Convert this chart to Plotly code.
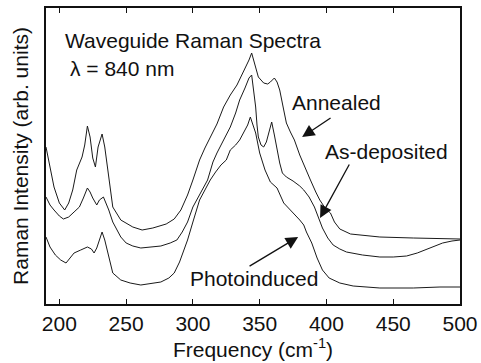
import plotly.graph_objects as go

# Frequencies (cm^-1) and intensities (arb. units)
ann_f = [190,193,196,200,204,207,210,213,217,219,221,223,225,227,229,232,234,237,240,246,255,262,270,280,286,291,296,300,305,309,313,318,323,328,333,336,339,342,344,346,349,353,356,358,361,363,365,368,370,373,376,380,384,388,392,395,399,403,406,410,418,430,440,465,500]
ann_v = [157,136,117,101,94,101,114,134,147,159,178,167,146,137,157,170,157,127,97,84,77,74,76,80,85,94,109,124,144,156,166,180,197,209,219,227,236,244,251,242,227,221,220,222,226,222,214,194,181,172,164,149,136,124,112,104,96,91,82,75,70,68,67,66,65]

dep_f = [190,193,196,200,203,207,211,215,218,221,223,225,228,230,233,235,237,240,243,246,250,255,261,268,276,283,288,292,296,300,305,311,315,318,323,328,332,335,339,342,344,346,347,348,349,351,353,355,357,359,361,363,365,367,370,375,380,383,387,391,394,397,401,405,410,415,427,440,450,460,468,477,487,494,500]
dep_v = [107,99,94,88,85,87,92,97,106,116,112,106,99,104,107,101,94,82,74,67,61,58,56,57,58,61,64,72,82,97,109,124,142,151,164,177,191,204,216,226,229,209,197,179,167,159,157,162,172,182,169,154,141,131,127,123,118,114,107,97,86,76,66,59,55,52,49,47,47,48,51,56,61,63,64]

pho_f = [190,193,197,201,205,208,211,216,221,224,226,228,230,232,234,237,240,246,253,261,270,276,282,286,290,293,296,300,303,305,309,313,317,321,325,328,332,335,339,341,343,345,347,350,354,358,363,368,373,377,380,383,385,389,393,397,402,410,420,440,465,485,500]
pho_v = [67,57,49,44,41,46,51,54,57,55,51,56,64,72,64,46,31,24,21,19,21,22,26,31,42,52,64,82,94,104,114,124,132,139,144,154,159,164,174,179,187,179,171,151,134,122,116,101,94,89,84,79,72,61,46,34,26,21,18,16,16,17,17]

x_ticks = [200, 250, 300, 350, 400, 450, 500]

FONT = "Liberation Sans, Arial, sans-serif"
FS = 21

fig = go.Figure()
for f, v, name in [(ann_f, ann_v, "Annealed"), (dep_f, dep_v, "As-deposited"), (pho_f, pho_v, "Photoinduced")]:
    fig.add_trace(go.Scatter(x=f, y=v, mode="lines", name=name,
                             line=dict(color="#1a1a1a", width=1), showlegend=False))

texts = [
    ("Waveguide Raman Spectra", 203.5, 264),
    ("λ = 840 nm", 207.5, 236),
    ("Annealed", 373.8, 202),
    ("As-deposited", 398.5, 153),
    ("Photoinduced", 297.2, 26),
]
for t, x, y in texts:
    fig.add_annotation(x=x, y=y, text=t, showarrow=False, xanchor="left", yanchor="middle",
                       borderpad=0, font=dict(family=FONT, size=FS, color="#111"))

arrows = [
    (381.8, 167, 404.2, 187),
    (395.2, 86, 417.7, 141),
    (378.8, 67, 341.3, 37),
]
for x, y, ax, ay in arrows:
    fig.add_annotation(x=x, y=y, ax=ax, ay=ay, xref="x", yref="y", axref="x", ayref="y",
                       text="", showarrow=True, arrowhead=2, arrowsize=1.9, arrowwidth=1.3,
                       arrowcolor="#111")

fig.update_layout(
    width=481, height=363,
    margin=dict(l=46, r=21, t=8, b=59),
    paper_bgcolor="white", plot_bgcolor="white",
    font=dict(family=FONT, size=FS, color="#111"),
    xaxis=dict(range=[190, 500], tickvals=x_ticks, ticks="inside", ticklen=5, tickwidth=1,
               tickcolor="#111", showline=True, linecolor="#111", linewidth=1.5, mirror="ticks",
               showgrid=False, zeroline=False, automargin=False,
               title=dict(text="Frequency (cm<sup>-1</sup>)", standoff=2, font=dict(size=FS)),
               tickfont=dict(size=FS)),
    yaxis=dict(range=[0, 296], showticklabels=False, ticks="", showline=True, linecolor="#111",
               linewidth=1.5, mirror=True, showgrid=False, zeroline=False, automargin=False,
               title=dict(text="Raman Intensity (arb. units)", standoff=10, font=dict(size=FS))),
)

fig.write_html("out.html", config={"displayModeBar": False},
               post_script="document.body.style.margin='0';")
